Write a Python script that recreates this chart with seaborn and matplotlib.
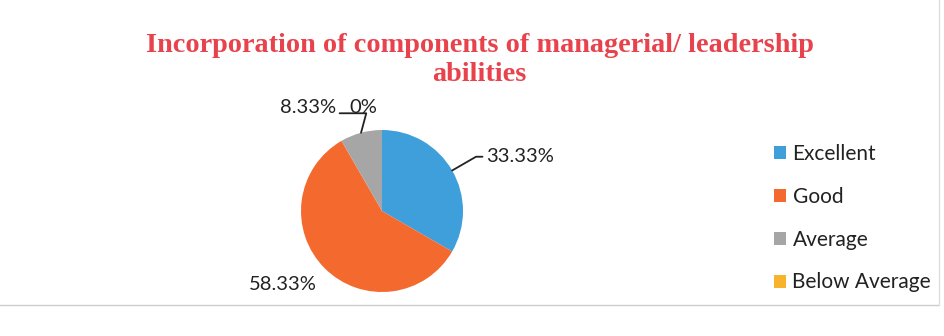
#!/usr/bin/env python3
import numpy as np
import matplotlib
matplotlib.use("Agg")
import matplotlib.pyplot as plt
import seaborn as sns

categories = ["Excellent", "Good", "Average", "Below Average"]
values = [33.33, 58.33, 8.33, 0.0]
pct_labels = ["33.33%", "58.33%", "8.33%", "0%"]
colors = ["#3F9FDA", "#F4692E", "#A6A6A6", "#F8B22B"]

sns.set_theme(style="white")
plt.rcParams["font.family"] = ["Lato", "DejaVu Sans"]

fig = plt.figure(figsize=(9.44, 3.36), dpi=100)
# pie centred at (382, 211) px with radius 81 px
cx, cy, r = 382 / 944, 1 - 211 / 336, 81
ax = fig.add_axes([cx - r / 944, cy - r / 336, 2 * r / 944, 2 * r / 336])

wedges, _ = ax.pie(values, colors=colors, startangle=90, counterclock=False,
                   radius=1, wedgeprops=dict(linewidth=0))
ax.set_xlim(-1, 1)
ax.set_ylim(-1, 1)
ax.set_aspect("auto")

lab_fs = 14.5
txt_col = "#222222"
# label positions relative to pie (radius units)
label_pos = [(1.70, 0.67), (-1.23, -0.91), (-0.91, 1.28), (-0.23, 1.28)]
for w, lab, (lx, ly) in zip(wedges, pct_labels, label_pos):
    ang = np.deg2rad((w.theta1 + w.theta2) / 2)
    ex, ey = np.cos(ang), np.sin(ang)
    if lab == "33.33%":
        ax.annotate(lab, xy=(ex, ey), xytext=(lx, ly), ha="center", va="center",
                    fontsize=lab_fs, color=txt_col, annotation_clip=False,
                    arrowprops=dict(arrowstyle="-", color=txt_col, lw=1.3,
                                    shrinkA=0, shrinkB=0,
                                    connectionstyle="angle,angleA=0,angleB=30,rad=0",
                                    relpos=(-0.02, 0.5)))
    elif lab == "8.33%":
        ax.annotate(lab, xy=(ex, ey), xytext=(lx, ly), ha="center", va="center",
                    fontsize=lab_fs, color=txt_col, annotation_clip=False,
                    arrowprops=dict(arrowstyle="-", color=txt_col, lw=1.3,
                                    shrinkA=0, shrinkB=0,
                                    connectionstyle="angle,angleA=0,angleB=75,rad=0",
                                    relpos=(1.04, 0.15)))
    else:
        ax.text(lx, ly, lab, ha="center", va="center", fontsize=lab_fs,
                color=txt_col, clip_on=False)

fig.text(0.508, 1 - 60 / 336,
         "Incorporation of components of managerial/ leadership\nabilities",
         ha="center", va="center", fontsize=20.3, fontweight="bold",
         family="Liberation Serif", color="#E8434C", linespacing=1.2)

handles = [plt.Rectangle((0, 0), 1, 1, facecolor=c, edgecolor="none") for c in colors]
leg = fig.legend(handles, categories, loc="upper left",
                 bbox_to_anchor=(755 / 944, 1 - 125 / 336), frameon=False,
                 fontsize=15, handlelength=0.6, handleheight=0.6,
                 handletextpad=0.3, labelspacing=1.1)
for t in leg.get_texts():
    t.set_color(txt_col)

# faint chart border
fig.add_artist(plt.Line2D([0.0, 0.995], [1 - 305 / 336] * 2, color="#CCCCCC", lw=1))
fig.add_artist(plt.Line2D([0.995, 0.995], [1 - 305 / 336, 1.0], color="#DDDDDD", lw=1))

fig.savefig("out.png", dpi=100, facecolor="white")
